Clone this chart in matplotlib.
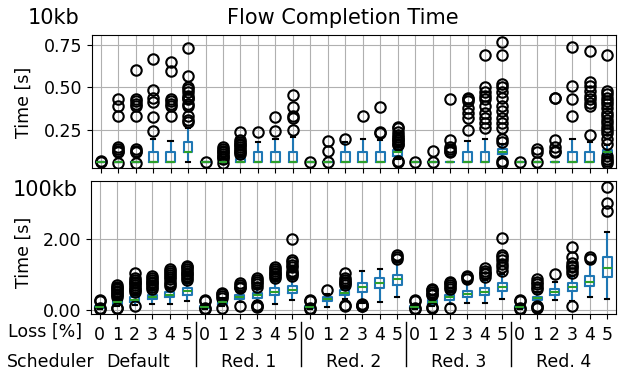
import matplotlib
matplotlib.use("Agg")
import matplotlib.pyplot as plt
from matplotlib.transforms import blended_transform_factory

# ---------------- data ----------------
schedulers = ["Default", "Red. 1", "Red. 2", "Red. 3", "Red. 4"]
loss_levels = ["0", "1", "2", "3", "4", "5"]
panels = ["10kb", "100kb"]

# 10kb flow completion time [s], one entry per (scheduler, loss)
med_10kb = [.065, .065, .065, .065, .065, .123,
            .065, .065, .065, .065, .065, .065,
            .065, .065, .065, .065, .065, .123,
            .065, .065, .065, .065, .065, .123,
            .065, .065, .065, .065, .065, .123]
q1_10kb = [.065, .065, .065, .065, .065, .123,
           .065, .065, .065, .065, .065, .065,
           .065, .065, .065, .065, .065, .10,
           .065, .065, .065, .065, .065, .11,
           .065, .065, .065, .065, .065, .11]
q3_10kb = [.065, .065, .065, .123, .123, .182,
           .065, .065, .08, .123, .123, .123,
           .065, .065, .12, .12, .12, .135,
           .065, .065, .065, .12, .12, .14,
           .065, .065, .065, .12, .12, .135]
lo_10kb = [.065, .065, .065, .065, .065, .065,
           .065, .065, .065, .065, .065, .065,
           .065, .065, .065, .065, .065, .08,
           .065, .065, .065, .065, .065, .09,
           .065, .065, .065, .065, .065, .09]
hi_10kb = [.065, .065, .065, .20, .186, .26,
           .065, .065, .10, .18, .20, .21,
           .065, .065, .18, .20, .19, .15,
           .065, .065, .065, .185, .195, .17,
           .065, .065, .065, .20, .18, .16]
fliers_10kb = [
    [.062, .068],
    [.06, .12, .13, .14, .15, .33, .39, .43],
    [.06, .12, .13, .14, .33, .39, .40, .42, .43, .60],
    [.244, .324, .415, .435, .484, .663],
    [.33, .39, .40, .42, .43, .597, .65],
    [.30, .31, .33, .39, .40, .43, .44, .45, .47, .49, .50, .567, .728],
    [.065],
    [.06, .08, .09, .10, .11, .12, .13, .14, .15],
    [.11, .12, .13, .14, .15, .16, .17, .18, .19, .24],
    [.24],
    [.244, .324],
    [.25, .32, .33, .386, .455],
    [.065],
    [.065, .13, .185],
    [.20],
    [.33],
    [.23, .24, .386],
    [.065, .07, .16, .17, .18, .19, .20, .21, .22, .24, .26, .27],
    [.065],
    [.065, .13],
    [.12, .13, .14, .15, .19, .43],
    [.25, .32, .35, .38, .42, .43, .44],
    [.26, .29, .32, .35, .39, .43, .45, .47, .50, .69],
    [.06, .07, .18, .20, .26, .29, .32, .36, .39, .44, .47, .50, .52, .69, .766],
    [.065],
    [.065, .12, .14],
    [.12, .13, .15, .19, .435, .44],
    [.33, .43, .507, .737],
    [.22, .39, .41, .43, .45, .48, .51, .53, .71],
    [.06, .07, .08, .10, .17, .20, .23, .25, .27, .29, .31, .33, .35, .38,
     .40, .42, .44, .46, .48, .69],
]

# 100kb flow completion time [s]
med_100kb = [.08, .22, .29, .37, .43, .53,
             .08, .22, .36, .41, .51, .57,
             .08, .31, .48, .64, .75, .86,
             .08, .22, .36, .45, .52, .66,
             .08, .33, .51, .66, .80, 1.17]
q1_100kb = [.06, .17, .23, .30, .36, .43,
            .06, .17, .31, .35, .42, .48,
            .06, .24, .41, .52, .61, .70,
            .06, .17, .28, .36, .42, .54,
            .06, .29, .42, .54, .68, .92]
q3_100kb = [.11, .27, .36, .43, .50, .62,
            .11, .27, .42, .47, .61, .67,
            .11, .37, .55, .75, .89, .99,
            .11, .27, .42, .54, .61, .75,
            .11, .38, .58, .75, .96, 1.48]
lo_100kb = [.04, .10, .14, .18, .18, .25,
            .04, .10, .22, .24, .18, .29,
            .04, .09, .30, .20, .23, .37,
            .04, .10, .18, .19, .19, .30,
            .04, .20, .28, .25, .37, .30]
hi_100kb = [.14, .34, .45, .55, .62, .80,
            .14, .33, .52, .58, .85, .90,
            .14, .46, .65, 1.11, 1.15, 1.35,
            .14, .34, .52, .75, .85, 1.00,
            .14, .50, .78, .95, 1.30, 2.20]
fliers_100kb = [
    [.03, .05, .24, .28],
    [.05, .07, .38, .42, .46, .50, .54, .58, .62, .66, .70],
    [.10, .50, .55, .60, .65, .70, .75, .80, .85, .90, 1.04],
    [.60, .65, .70, .75, .80, .85, .90, .95],
    [.68, .74, .80, .86, .92, .98, 1.04, 1.10, 1.15],
    [.85, .90, .95, 1.0, 1.05, 1.10, 1.15, 1.20, 1.25],
    [.03, .06, .25, .28],
    [.06, .35, .40, .44, .48],
    [.12, .62, .66, .70, .75],
    [.08, .12, .15, .65, .72, .78, .85, .90],
    [.90, .95, 1.0, 1.05, 1.10, 1.15, 1.20],
    [.96, 1.0, 1.04, 1.10, 1.20, 1.27, 1.35, 1.41, 2.0],
    [.03, .05, .24, .27],
    [.57],
    [.12, .15, .70, .75, .80, .85, .90, 1.03],
    [.10, .12, .14, .16],
    [],
    [1.45, 1.50, 1.55],
    [.03, .05, .24, .27],
    [.05, .08, .42, .46, .50, .55, .60],
    [.07, .60, .65, .70, .75, .80],
    [.88, .92, .95],
    [.94, 1.0, 1.05, 1.10, 1.17],
    [1.10, 1.20, 1.30, 1.40, 1.50, 1.55, 2.02],
    [.03, .05, .24, .27],
    [.05, .08, .12, .60, .65, .72, .80, .88],
    [1.0],
    [.11, 1.05, 1.12, 1.20, 1.25, 1.31, 1.50, 1.78],
    [1.45, 1.50],
    [2.80, 3.02, 3.47],
]

# ---------------- figure ----------------
W, H = 618, 371
FS = 12.5
plt.rcParams["font.family"] = ["DejaVu Sans"]
plt.rcParams["font.size"] = FS
fig = plt.figure(figsize=(W / 100, H / 100), dpi=100)


def rect(l, t, r, b):
    return [l / W, 1 - b / H, (r - l) / W, (b - t) / H]


ax_top = fig.add_axes(rect(92, 35, 616, 168))
ax_bot = fig.add_axes(rect(91, 181, 616, 314))


def make_stats(med, q1, q3, lo, hi, fl):
    return [dict(med=m, q1=a, q3=b, whislo=l, whishi=h, fliers=f)
            for m, a, b, l, h, f in zip(med, q1, q3, lo, hi, fl)]


style = dict(
    widths=0.5,
    boxprops=dict(color="#1f77b4", linewidth=1.5),
    whiskerprops=dict(color="#1f77b4", linewidth=1.5),
    capprops=dict(color="black", linewidth=1.5),
    medianprops=dict(color="#2ca02c", linewidth=1.5),
    flierprops=dict(marker="o", markerfacecolor="none", markeredgecolor="black",
                    markersize=7.5, markeredgewidth=1.5),
)

n = len(schedulers) * len(loss_levels)
positions = list(range(1, n + 1))

ax_top.bxp(make_stats(med_10kb, q1_10kb, q3_10kb, lo_10kb, hi_10kb, fliers_10kb),
           positions=positions, **style)
ax_bot.bxp(make_stats(med_100kb, q1_100kb, q3_100kb, lo_100kb, hi_100kb, fliers_100kb),
           positions=positions, **style)

for ax in (ax_top, ax_bot):
    ax.set_xlim(0.5, n + 0.5)
    ax.grid(True, color="#b0b0b0", linewidth=0.8)
    ax.set_axisbelow(True)
    ax.set_xticks(positions)
    ax.tick_params(axis="both", labelsize=FS)

ax_top.set_ylim(0.028, 0.806)
ax_top.set_yticks([0.25, 0.50, 0.75])
ax_top.set_yticklabels(["0.25", "0.50", "0.75"])
ax_top.tick_params(axis="x", labelbottom=False)

ax_bot.set_ylim(-0.113, 3.634)
ax_bot.set_yticks([0.0, 2.0])
ax_bot.set_yticklabels(["0.00", "2.00"])
ax_bot.set_xticklabels(loss_levels * len(schedulers))
ax_bot.tick_params(axis="x", pad=5)


def fx(x):
    return x / W


def fy(y):
    return 1 - y / H


fig.text(fx(343), fy(18), "Flow Completion Time", ha="center", va="center", fontsize=15)
fig.text(fx(79), fy(18), panels[0], ha="right", va="center", fontsize=15)
fig.text(fx(78), fy(190), panels[1], ha="right", va="center", fontsize=15)
fig.text(fx(24), fy(102), "Time [s]", ha="center", va="center", rotation=90, fontsize=FS)
fig.text(fx(24), fy(252), "Time [s]", ha="center", va="center", rotation=90, fontsize=FS)
fig.text(fx(8), fy(332), "Loss [%]", ha="left", va="center", fontsize=FS)
fig.text(fx(7), fy(362), "Scheduler", ha="left", va="center", fontsize=FS)

tr = blended_transform_factory(ax_bot.transData, fig.transFigure)
group_size = len(loss_levels)
for i, name in enumerate(schedulers):
    center = i * group_size + (group_size + 1) / 2
    if i == 0:
        center -= 0.33
    ax_bot.text(center, fy(362), name, transform=tr, ha="center", va="center",
                fontsize=FS, clip_on=False)
    if i > 0:
        xsep = i * group_size + 0.5
        ax_bot.plot([xsep, xsep], [fy(322), fy(366)], transform=tr, color="black",
                    linewidth=1.0, clip_on=False)

fig.savefig("out.png", dpi=100)
